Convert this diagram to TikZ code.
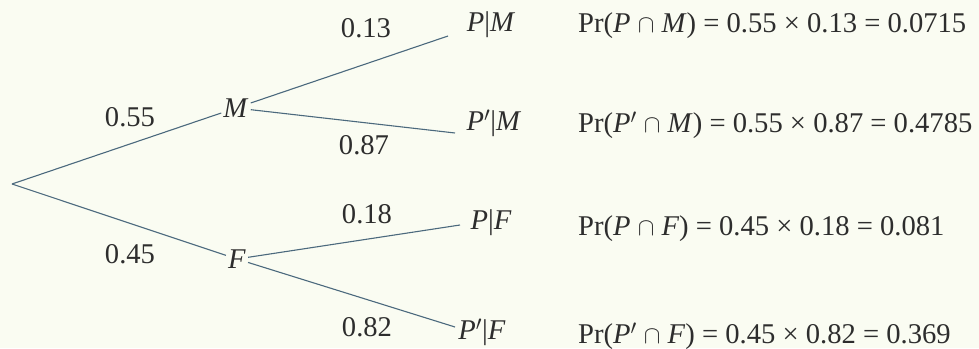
\documentclass[tikz,border=0pt]{standalone}
\usepackage{fontspec}
\setmainfont{Liberation Serif}
\definecolor{bgc}{RGB}{250,252,242}
\definecolor{linec}{RGB}{75,105,125}
\definecolor{txtc}{RGB}{45,45,45}
\begin{document}
\begin{tikzpicture}[x=1pt,y=-1pt,
  every node/.style={text=txtc,font=\fontsize{28.6}{32}\selectfont},
  branch/.style={draw=linec,line width=1.1pt},
  evt/.style={inner sep=2pt},
  prob/.style={inner sep=0pt},
  res/.style={anchor=west,inner sep=0pt}]
\fill[bgc] (0,0) rectangle (979,348);
\useasboundingbox (0,0) rectangle (979,348);
\coordinate (root) at (12,184);
\node[evt] (M) at (236,108) {\textit{M}};
\node[evt] (F) at (237,259) {\textit{F}};
\node[evt] (PM) at (491,25) {\textit{P}|\textit{M}};
\node[evt] (PpM) at (494,123) {\textit{P}$'$|\textit{M}};
\node[evt] (PF) at (491,223) {\textit{P}|\textit{F}};
\node[evt] (PpF) at (482,332) {\textit{P}$'$|\textit{F}};
\draw[branch] (root) -- (M);
\draw[branch] (root) -- (F);
\draw[branch] (M) -- ([shift={(-43,11)}]PM.center);
\draw[branch] (M) -- ([shift={(-39,10)}]PpM.center);
\draw[branch] (F) -- ([shift={(-31,2)}]PF.center);
\draw[branch] (F) -- ([shift={(-27,-5)}]PpF.center);
\node[prob] (l1) at (130,117) {0.55};
\node[prob] (l2) at (130,254) {0.45};
\node[prob] (l3) at (366,28) {0.13};
\node[prob] (l4) at (364,145) {0.87};
\node[prob] (l5) at (367,214) {0.18};
\node[prob] (l6) at (367,327) {0.82};
\node[res] (r1) at (578,26) {Pr(\textit{P} $\cap$ \textit{M}) = 0.55 × 0.13 = 0.0715};
\node[res] (r2) at (578,125) {Pr(\textit{P}$'$ $\cap$ \textit{M}) = 0.55 × 0.87 = 0.4785};
\node[res] (r3) at (578,229) {Pr(\textit{P} $\cap$ \textit{F}) = 0.45 × 0.18 = 0.081};
\node[res] (r4) at (578,336) {Pr(\textit{P}$'$ $\cap$ \textit{F}) = 0.45 × 0.82 = 0.369};
\end{tikzpicture}
\end{document}
